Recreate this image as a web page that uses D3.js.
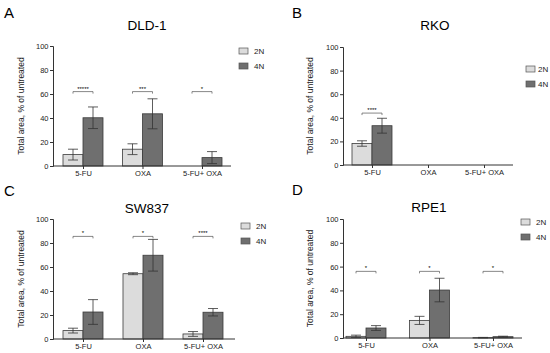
<!DOCTYPE html>
<html>
<head>
<meta charset="utf-8">
<script src="https://cdn.jsdelivr.net/npm/d3@7"></script>
<style>
  body { margin: 0; background: white; }
  text { font-family: "Liberation Sans", Arial, sans-serif; }
</style>
</head>
<body>
<div id="chart"></div>
<script>
// data
const groups = ["5-FU", "OXA", "5-FU+ OXA"];
const series = ["2N", "4N"];
const yTicks = [0, 20, 40, 60, 80, 100];

const dldMean = [[9.5, 40.2], [14, 43.5], [0, 7]];
const dldErr = [[4.5, 9], [4.5, 12.5], [0, 5]];
const dldSig = ["*****", "***", "*"];

const rkoMean = [[18.2, 33.3], [0, 0], [0, 0]];
const rkoErr = [[2.3, 6.3], [0, 0], [0, 0]];
const rkoSig = ["****", "", ""];

const swMean = [[7, 22.5], [54.4, 69.8], [4.2, 22.3]];
const swErr = [[2, 10.3], [0.8, 13.2], [2, 3.1]];
const swSig = ["*", "*", "****"];

const rpeMean = [[1.4, 8.4], [14.8, 40.3], [0.3, 1.1]];
const rpeErr = [[1, 2], [3.4, 9.9], [0.2, 0.4]];
const rpeSig = ["*", "*", "*"];

const sigLevel = [[62, 62, 62], [44, 0, 0], [85.5, 85.5, 85.5], [56, 56, 56]];

const width = 550;
const height = 353;

const svg = d3.select("#chart")
  .append("svg")
  .attr("width", width)
  .attr("height", height)
  .style("background-color", "white");

const colors = {"2N": "#dcdcdc", "4N": "#6f6f6f"};

// panel layout
const panels = [
  {letter: "A", name: "DLD-1", mean: dldMean, err: dldErr, sig: dldSig, lvl: sigLevel[0],
   lx: 4, ly: 18, ax: 53, axEnd: 231, g0: 83, g1: 202, y0: 166, y100: 46,
   tx: 147, ty: 30, labX: 24, legX: 239, legY: 48, legGap: 15},
  {letter: "B", name: "RKO", mean: rkoMean, err: rkoErr, sig: rkoSig, lvl: sigLevel[1],
   lx: 292, ly: 18, ax: 343, axEnd: 513, g0: 372, g1: 484, y0: 165, y100: 47,
   tx: 435, ty: 30, labX: 313, legX: 526, legY: 66, legGap: 12},
  {letter: "C", name: "SW837", mean: swMean, err: swErr, sig: swSig, lvl: sigLevel[2],
   lx: 4, ly: 196, ax: 53, axEnd: 235, g0: 83, g1: 203, y0: 339, y100: 219,
   tx: 147, ty: 213, labX: 24, legX: 241, legY: 223, legGap: 15},
  {letter: "D", name: "RPE1", mean: rpeMean, err: rpeErr, sig: rpeSig, lvl: sigLevel[3],
   lx: 292, ly: 195, ax: 343, axEnd: 522, g0: 366, g1: 493, y0: 338, y100: 219,
   tx: 429, ty: 212, labX: 313, legX: 521, legY: 219, legGap: 15}
];

panels.forEach(p => {
  const g = svg.append("g");

  const x = d3.scalePoint().domain(groups).range([p.g0, p.g1]);
  const sub = d3.scaleBand().domain(series).range([-20, 20]).padding(0);
  const y = d3.scaleLinear().domain([0, 100]).range([p.y0, p.y100]);

  // panel letter and title
  g.append("text")
    .attr("x", p.lx).attr("y", p.ly)
    .style("font-size", "15px")
    .text(p.letter);

  g.append("text")
    .attr("x", p.tx).attr("y", p.ty)
    .attr("text-anchor", "middle")
    .style("font-size", "13.5px")
    .text(p.name);

  // bars
  groups.forEach((grp, i) => {
    series.forEach((s, j) => {
      const v = p.mean[i][j];
      const e = p.err[i][j];
      const bx = x(grp) + sub(s);
      if (v > 0) {
        g.append("rect")
          .attr("x", bx)
          .attr("y", y(v))
          .attr("width", sub.bandwidth())
          .attr("height", y(0) - y(v))
          .attr("fill", colors[s])
          .attr("stroke", "#3a3a3a")
          .attr("stroke-width", 0.8);
      }
      if (e > 0) {
        const cx = bx + sub.bandwidth() / 2;
        g.append("line")
          .attr("x1", cx).attr("x2", cx)
          .attr("y1", y(v - e)).attr("y2", y(v + e))
          .attr("stroke", "#333").attr("stroke-width", 0.8);
        [v - e, v + e].forEach(t => {
          g.append("line")
            .attr("x1", cx - 5).attr("x2", cx + 5)
            .attr("y1", y(t)).attr("y2", y(t))
            .attr("stroke", "#333").attr("stroke-width", 0.8);
        });
      }
    });

    // significance bracket
    if (p.sig[i]) {
      const bx0 = x(grp) - 10;
      const bx1 = x(grp) + 10;
      const by = y(p.lvl[i]);
      g.append("path")
        .attr("d", `M${bx0},${by + 2}V${by}H${bx1}V${by + 2}`)
        .attr("fill", "none")
        .attr("stroke", "#555")
        .attr("stroke-width", 0.7);
      g.append("text")
        .attr("x", x(grp)).attr("y", by - 1)
        .attr("text-anchor", "middle")
        .style("font-size", "6px")
        .text(p.sig[i]);
    }
  });

  // y axis
  const yAxis = g.append("g")
    .attr("transform", `translate(${p.ax},0)`)
    .call(d3.axisLeft(y).tickValues(yTicks).tickSize(3).tickPadding(1.5));
  yAxis.selectAll("text").style("font-size", "7.5px").attr("fill", "#222");
  yAxis.selectAll("line, path").attr("stroke", "#333");

  // x axis
  const xAxis = g.append("g")
    .attr("transform", `translate(0,${p.y0})`)
    .call(d3.axisBottom(x).tickSize(3).tickPadding(2));
  xAxis.select(".domain").attr("d", `M${p.ax},0H${p.axEnd}`).attr("stroke", "#333");
  xAxis.selectAll("line").attr("stroke", "#333");
  xAxis.selectAll("text").style("font-size", "7.5px").attr("fill", "#222");

  // y label
  g.append("text")
    .attr("transform", `translate(${p.labX},${(p.y0 + p.y100) / 2}) rotate(-90)`)
    .attr("text-anchor", "middle")
    .style("font-size", "8.5px")
    .attr("fill", "#222")
    .text("Total area, % of untreated");

  // legend
  series.forEach((s, j) => {
    g.append("rect")
      .attr("x", p.legX).attr("y", p.legY + j * 15)
      .attr("width", 9).attr("height", 6)
      .attr("fill", colors[s])
      .attr("stroke", "#555").attr("stroke-width", 0.7);
    g.append("text")
      .attr("x", p.legX + p.legGap).attr("y", p.legY + j * 15 + 6)
      .style("font-size", "8px")
      .attr("fill", "#222")
      .text(s);
  });
});
</script>
</body>
</html>
